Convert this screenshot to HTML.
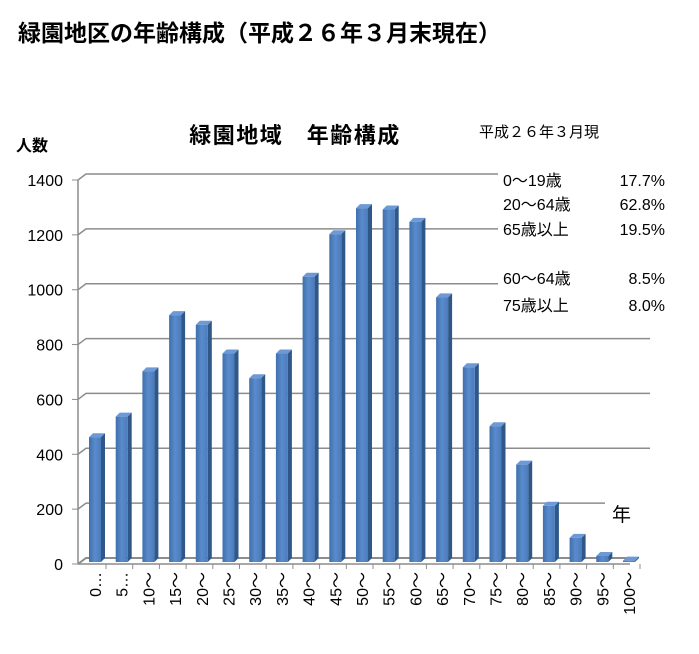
<!DOCTYPE html>
<html><head><meta charset="utf-8"><style>
body{margin:0;background:#fff;}
svg text{font-family:"Liberation Sans","Noto Sans CJK JP",sans-serif;fill:#000;}
</style></head><body>
<svg id="chart" width="699" height="649" xmlns="http://www.w3.org/2000/svg">
<defs>
<linearGradient id="bf" x1="0" x2="1" y1="0" y2="0"><stop offset="0" stop-color="#3f6fad"/><stop offset="0.5" stop-color="#5a8bcb"/><stop offset="1" stop-color="#4a7bbd"/></linearGradient>
</defs>
<text x="18" y="41" font-size="23" font-weight="bold">緑園地区の年齢構成（平成２６年３月末現在）</text>
<text x="295" y="143" font-size="22" font-weight="bold" text-anchor="middle" letter-spacing="1.5">緑園地域　年齢構成</text>
<text x="479" y="137" font-size="15">平成２６年３月現</text>
<text x="16" y="151" font-size="16" font-weight="bold">人数</text>
<g id="grid"></g>
<g id="axes"></g>
<g id="bars"></g>
<g id="xlabels"></g>
<g font-size="16">
<text x="503" y="186">0〜19歳</text><text x="665" y="186" text-anchor="end">17.7%</text>
<text x="503" y="210">20〜64歳</text><text x="665" y="210" text-anchor="end">62.8%</text>
<text x="503" y="235">65歳以上</text><text x="665" y="235" text-anchor="end">19.5%</text>
<text x="503" y="284">60〜64歳</text><text x="665" y="284" text-anchor="end">8.5%</text>
<text x="503" y="311">75歳以上</text><text x="665" y="311" text-anchor="end">8.0%</text>
</g>
<text x="612" y="521" font-size="19">年</text>
</svg>
<script>
const categories=["0…","5…","10～","15～","20～","25～","30～","35～","40～","45～","50～","55～","60～","65～","70～","75～","80～","85～","90～","95～","100～"];
const values=[455,530,695,900,865,760,670,760,1040,1195,1290,1285,1240,965,710,495,355,205,88,22,5];
const yTicks=[0,200,400,600,800,1000,1200,1400];
const NS="http://www.w3.org/2000/svg";
function y(v){return 558-v*384/1400;}
function x(i){return 95+i*26.7;}
function mk(tag,attrs,parent){const e=document.createElementNS(NS,tag);for(const k in attrs)e.setAttribute(k,attrs[k]);parent.appendChild(e);return e;}
const grid=document.getElementById('grid'),axes=document.getElementById('axes'),bars=document.getElementById('bars'),xl=document.getElementById('xlabels');
const gridEnd={0:636,200:605,400:650,600:650,800:650,1000:498,1200:498,1400:498};
yTicks.forEach(t=>{
  const l=mk('polyline',{points:`78,${y(t)+6} 86,${y(t)} ${gridEnd[t]},${y(t)}`,fill:'none',stroke:'#8c8c8c','stroke-width':t===0?2:1.5},grid);
  
  
  const tx=mk('text',{x:63,y:y(t)+12,'font-size':16,'text-anchor':'end'},axes);
  tx.textContent=t;
  
  
  mk('line',{x1:72,y1:y(t)+6,x2:78,y2:y(t)+6,stroke:'#8c8c8c'},axes);
});
const ya=mk('line',{x1:78,y1:y(1400)+6,x2:78,y2:y(0)+6,stroke:'#8c8c8c','stroke-width':1.5},axes);


const xa=mk('line',{x1:78,y1:y(0)+6,x2:630,y2:y(0)+6,stroke:'#8c8c8c','stroke-width':1.5},axes);


values.forEach((v,i)=>{
  const cx=x(i),w=12,d=4,top=y(v)+4,base=y(0)+4;
  const g=mk('g',{},bars);
  
  
  mk('polygon',{points:`${cx-w/2+d},${top-d} ${cx+w/2+d},${top-d} ${cx+w/2},${top} ${cx-w/2},${top}`,fill:'#6d9ad6'},g);
  mk('polygon',{points:`${cx+w/2},${top} ${cx+w/2+d},${top-d} ${cx+w/2+d},${base-d} ${cx+w/2},${base}`,fill:'#2f5788'},g);
  mk('rect',{x:cx-w/2,y:top,width:w,height:Math.max(0,base-top),fill:'url(#bf)'},g);
  mk('line',{x1:cx+w/2+5,y1:y(0)+6,x2:cx+w/2+5,y2:y(0)+11,stroke:'#8c8c8c'},axes);
  const t=mk('text',{transform:`translate(${cx+6},${y(0)+14}) rotate(-90)`,'font-size':16,'text-anchor':'end'},xl);
  t.textContent=categories[i];
  
  
});
</script>
</body></html>
